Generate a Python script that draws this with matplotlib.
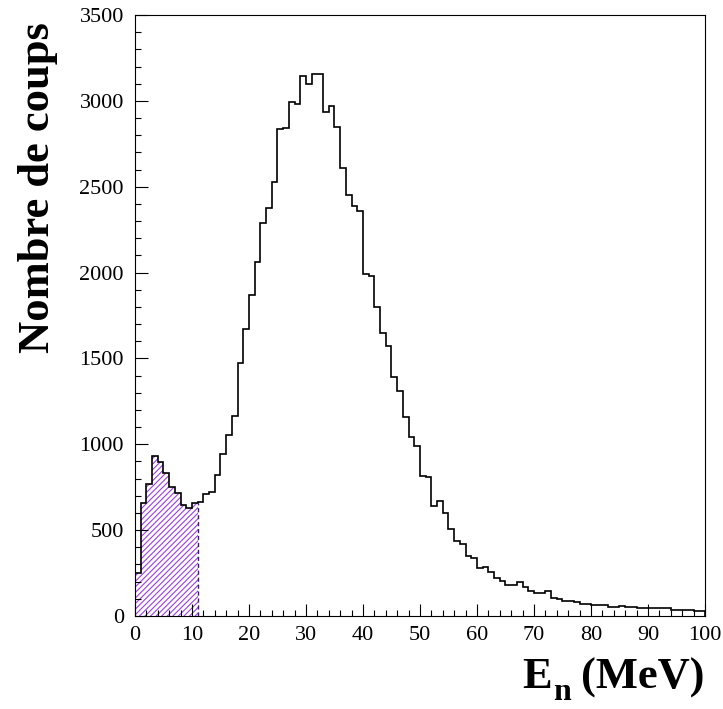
import matplotlib
matplotlib.use("Agg")
import matplotlib.pyplot as plt
import numpy as np
from matplotlib.ticker import MultipleLocator

# Histogram: 100 bins of 1 MeV between 0 and 100 MeV
bin_edges = np.arange(0, 101, 1)
counts = [
    252, 660, 769, 932, 899, 835, 753, 714, 646, 627,
    656, 666, 711, 724, 821, 943, 1052, 1162, 1471, 1669,
    1872, 2062, 2287, 2375, 2529, 2838, 2843, 2994, 2979, 3144,
    3099, 3159, 3154, 2937, 2970, 2849, 2610, 2454, 2390, 2357,
    1989, 1979, 1802, 1649, 1574, 1394, 1311, 1157, 1041, 989,
    814, 812, 639, 669, 597, 507, 435, 422, 348, 339,
    281, 284, 255, 222, 203, 180, 183, 199, 170, 145,
    135, 131, 143, 103, 96, 88, 88, 80, 72, 67,
    66, 66, 64, 54, 54, 58, 54, 54, 46, 46,
    44, 44, 48, 44, 36, 35, 33, 33, 29, 29,
]
hatch_upper = 11  # hatched region 0 - 11 MeV

xticks = list(range(0, 101, 10))
yticks = list(range(0, 3501, 500))

plt.rcParams['font.family'] = ['Liberation Serif', 'DejaVu Serif']
plt.rcParams['hatch.linewidth'] = 0.8

fig = plt.figure(figsize=(7.23, 7.09), dpi=100)
ax = fig.add_axes([0.1867, 0.1312, 0.7884, 0.8476])

counts = np.array(counts, dtype=float)
edges = np.array(bin_edges, dtype=float)

nh = hatch_upper
ax.stairs(counts[:nh], edges[:nh + 1], fill=True, facecolor='none',
          edgecolor='#9a3cf0', hatch='//////', linewidth=0)
ax.plot([edges[nh], edges[nh]], [0, counts[nh - 1]], color='#3a2060',
        lw=1.0, ls=(0, (3, 2)))
ax.stairs(counts, edges, color='black', linewidth=1.2)

ax.set_xlim(0, 100)
ax.set_ylim(0, 3500)
ax.set_xticks(xticks)
ax.set_yticks(yticks)
ax.xaxis.set_minor_locator(MultipleLocator(2))
ax.yaxis.set_minor_locator(MultipleLocator(100))
ax.tick_params(which='both', direction='in', top=False, right=False,
               width=0.8, labelsize=16)
ax.tick_params(which='major', length=9)
ax.tick_params(which='minor', length=4.5)
ax.tick_params(axis='y', pad=8)
ax.tick_params(axis='x', pad=7)
for s in ax.spines.values():
    s.set_linewidth(0.8)

fig.text(0.053, 0.736, 'Nombre de coups', rotation=90, ha='center',
         va='center', fontsize=32, fontweight='bold')

# x label: "E" with subscript "n", then "(MeV)", right aligned at axis end
renderer = fig.canvas.get_renderer()
t3 = fig.text(0.975, 0.029, '(MeV)', ha='right', va='baseline',
              fontsize=32, fontweight='bold')
bb3 = t3.get_window_extent(renderer)
x_n_right = bb3.x0 - 11
t2 = fig.text(x_n_right / fig.bbox.width, 0.012, 'n', ha='right',
              va='baseline', fontsize=23, fontweight='bold')
bb2 = t2.get_window_extent(renderer)
fig.text((bb2.x0 - 1) / fig.bbox.width, 0.029, 'E', ha='right',
         va='baseline', fontsize=32, fontweight='bold')

fig.savefig('out.png', dpi=100)
